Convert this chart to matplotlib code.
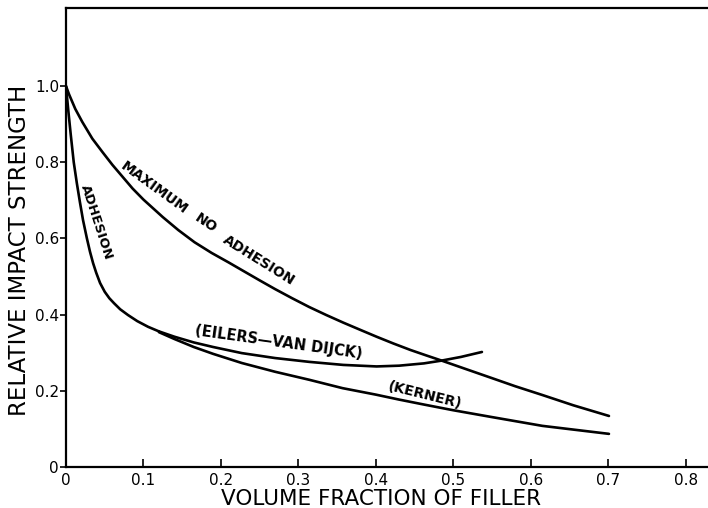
import matplotlib
matplotlib.use("Agg")
import matplotlib.pyplot as plt

# values (volume fraction -> relative impact strength)
max_no_adh_x = [0.0, 0.004, 0.012, 0.021, 0.034, 0.047, 0.06, 0.073, 0.086, 0.1,
                0.125, 0.145, 0.166, 0.188, 0.21, 0.227, 0.25, 0.27, 0.292, 0.314,
                0.336, 0.358, 0.38, 0.401, 0.423, 0.445, 0.465, 0.484, 0.515,
                0.549, 0.58, 0.615, 0.655, 0.701]
max_no_adh_y = [1.0, 0.978, 0.94, 0.906, 0.862, 0.827, 0.793, 0.762, 0.731, 0.702,
                0.656, 0.622, 0.59, 0.562, 0.537, 0.517, 0.49, 0.467, 0.443, 0.42,
                0.399, 0.379, 0.36, 0.342, 0.324, 0.307, 0.293, 0.28, 0.258,
                0.234, 0.212, 0.189, 0.162, 0.134]

# shared steep "adhesion" section
adh_x = [0.0, 0.003, 0.006, 0.01, 0.014, 0.018, 0.022, 0.027, 0.031, 0.035,
         0.039, 0.044, 0.05, 0.056, 0.062, 0.07, 0.08, 0.092, 0.106, 0.12]
adh_y = [1.0, 0.935, 0.875, 0.80, 0.745, 0.695, 0.648, 0.60, 0.565, 0.535,
         0.51, 0.483, 0.46, 0.443, 0.43, 0.414, 0.399, 0.383, 0.368, 0.356]

eilers_x = [0.12, 0.14, 0.165, 0.19, 0.227, 0.27, 0.314, 0.358, 0.401, 0.43,
            0.462, 0.484, 0.51, 0.537]
eilers_y = [0.356, 0.342, 0.327, 0.315, 0.299, 0.286, 0.276, 0.268, 0.264, 0.266,
            0.272, 0.279, 0.289, 0.302]

kerner_x = [0.12, 0.14, 0.165, 0.19, 0.227, 0.27, 0.314, 0.357, 0.4, 0.43,
            0.462, 0.5, 0.55, 0.615, 0.66, 0.701]
kerner_y = [0.354, 0.336, 0.315, 0.297, 0.273, 0.25, 0.229, 0.207, 0.19, 0.177,
            0.164, 0.149, 0.131, 0.108, 0.097, 0.087]

x_ticks = [0, 0.1, 0.2, 0.3, 0.4, 0.5, 0.6, 0.7, 0.8]
x_labels = ["0", "0.1", "0.2", "0.3", "0.4", "0.5", "0.6", "0.7", "0.8"]
y_ticks = [0, 0.2, 0.4, 0.6, 0.8, 1.0]
y_labels = ["0", "0.2", "0.4", "0.6", "0.8", "1.0"]

plt.rcParams["font.family"] = ["DejaVu Sans"]

fig = plt.figure(figsize=(7.08, 5.08), dpi=100)
ax = fig.add_axes([66 / 708, 1 - 467 / 508, 1 - 66 / 708 + 0.01, (467 - 8) / 508])

lw = 1.9
for xs, ys in [(max_no_adh_x, max_no_adh_y), (adh_x, adh_y),
               (eilers_x, eilers_y), (kerner_x, kerner_y)]:
    ax.plot(xs, ys, color="black", lw=lw, solid_capstyle="round",
            solid_joinstyle="round")

lab = dict(fontweight="bold", color="black", ha="center", va="center")
ax.text(0.114, 0.732, "MAXIMUM", rotation=-36, fontsize=10, **lab)
ax.text(0.181, 0.639, "NO", rotation=-34, fontsize=10, **lab)
ax.text(0.249, 0.543, "ADHESION", rotation=-32, fontsize=10, **lab)
ax.text(0.039, 0.643, "ADHESION", rotation=-72, fontsize=9.5, **lab)
ax.text(0.275, 0.328, "(EILERS\u2014VAN DIJCK)", rotation=-8, fontsize=10.5, **lab)
ax.text(0.463, 0.187, "(KERNER)", rotation=-14, fontsize=10, **lab)

ax.set_xlim(0, 0.838)
ax.set_ylim(0, 1.205)
ax.set_xticks(x_ticks)
ax.set_xticklabels(x_labels)
ax.set_yticks(y_ticks)
ax.set_yticklabels(y_labels)
ax.tick_params(axis="x", direction="in", length=6, width=1.2, labelsize=11, pad=4)
ax.tick_params(axis="y", direction="out", length=4, width=1.2, labelsize=11, pad=1)

ax.spines["right"].set_visible(False)
for s in ("left", "bottom", "top"):
    ax.spines[s].set_linewidth(1.6)

ax.set_xlabel("VOLUME FRACTION OF FILLER", fontsize=15.5)
ax.xaxis.set_label_coords(0.485, -0.048)
ax.set_ylabel("RELATIVE IMPACT STRENGTH", fontsize=16.5, va="center")
ax.yaxis.set_label_coords(-0.072, 0.473)

fig.savefig("out.png", dpi=100)
